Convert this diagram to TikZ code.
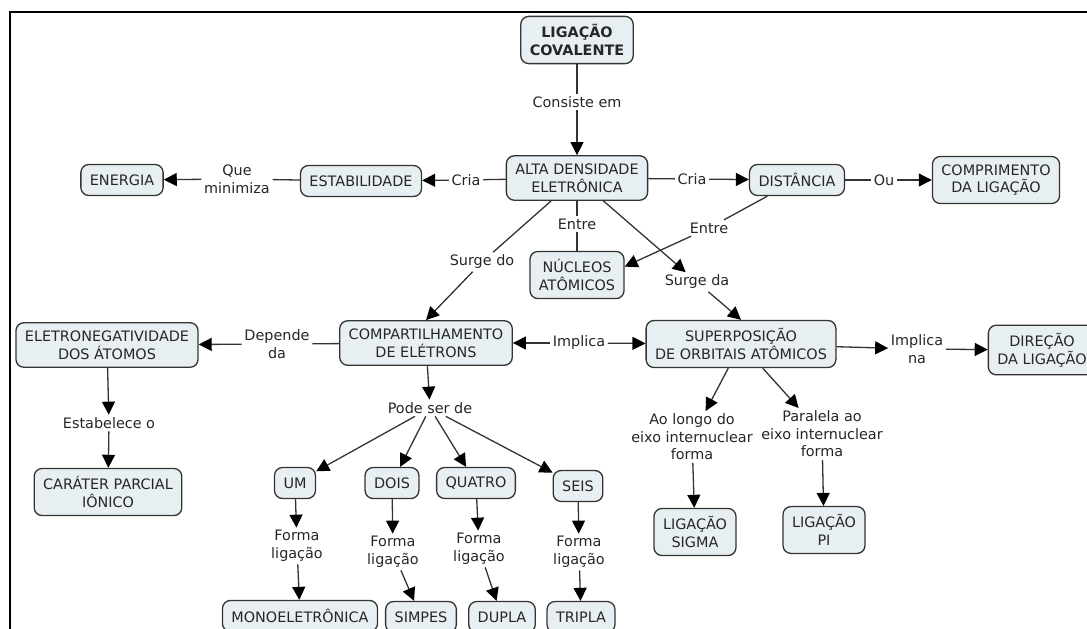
\documentclass[tikz,border=0pt]{standalone}
\usepackage{fontspec}
\setmainfont{DejaVu Sans}
\usepackage{xcolor}
\usetikzlibrary{arrows.meta}
\definecolor{boxfill}{HTML}{E8EFF2}
\definecolor{boxline}{HTML}{333333}
\definecolor{txt}{HTML}{262626}

\begin{document}
\begin{tikzpicture}[x=0.5pt,y=-0.5pt,
  font=\fontsize{7.2}{8.8}\selectfont,
  concept/.style={draw=boxline,fill=boxfill,rounded corners=4pt,line width=0.65pt,
    align=center,inner xsep=4.5pt,inner ysep=4pt,minimum height=15.5pt,text=txt},
  link/.style={align=center,inner sep=1.2pt,text=txt},
  every edge/.style={draw=boxline,line width=0.65pt},
  >={Triangle[length=6.5pt,width=6.5pt,color=black]}]
\useasboundingbox (0,0) rectangle (1087,628);
\draw[line width=1.1pt] (10,640) -- (10,12) -- (1100,12);

\node[concept,font=\fontsize{7.2}{8.8}\selectfont\bfseries] (cov) at (577,40) {LIGAÇÃO\\COVALENTE};
\node[concept] (alta) at (577,178) {ALTA DENSIDADE\\ELETRÔNICA};
\node[concept] (estab) at (361,181) {ESTABILIDADE};
\node[concept] (energia) at (122,180) {ENERGIA};
\node[concept] (dist) at (797,180) {DISTÂNCIA};
\node[concept] (compr) at (996,180) {COMPRIMENTO\\DA LIGAÇÃO};
\node[concept] (nucleos) at (577,275) {NÚCLEOS\\ATÔMICOS};
\node[concept] (compart) at (426,343) {COMPARTILHAMENTO\\DE ELÉTRONS};
\node[concept] (superp) at (741,344) {SUPERPOSIÇÃO\\DE ORBITAIS ATÔMICOS};
\node[concept] (direcao) at (1042,350) {DIREÇÃO\\DA LIGAÇÃO};
\node[concept] (eletro) at (107,345) {ELETRONEGATIVIDADE\\DOS ÁTOMOS};
\node[concept] (carater) at (108,492) {CARÁTER PARCIAL\\IÔNICO};
\node[concept] (um) at (295,483) {UM};
\node[concept] (dois) at (392,483) {DOIS};
\node[concept] (quatro) at (476,483) {QUATRO};
\node[concept] (seis) at (578,486) {SEIS};
\node[concept] (mono) at (300,616) {MONOELETRÔNICA};
\node[concept] (simpes) at (421,617) {SIMPES};
\node[concept] (dupla) at (502,617) {DUPLA};
\node[concept] (tripla) at (581,617) {TRIPLA};
\node[concept] (sigma) at (695,532) {LIGAÇÃO\\SIGMA};
\node[concept] (pi) at (824,530) {LIGAÇÃO\\PI};

\node[link] (consiste) at (577,102) {Consiste em};
\node[link] (cria1) at (466,180) {Cria};
\node[link] (minimiza) at (237,179) {Que\\minimiza};
\node[link] (cria2) at (692,179) {Cria};
\node[link] (ou) at (884,180) {Ou};
\node[link] (entre1) at (577,224) {Entre};
\node[link] (entre2) at (709,228) {Entre};
\node[link] (surgedo) at (482,262) {Surge do};
\node[link] (surgeda) at (697,282) {Surge da};
\node[link] (implica) at (579,343) {Implica};
\node[link] (implicana) at (917,349) {Implica\\na};
\node[link] (depende) at (277,344) {Depende\\da};
\node[link] (estabelece) at (109,423) {Estabelece o};
\node[link] (podeser) at (430,408) {Pode ser de};
\node[link] (forma1) at (297,546) {Forma\\ligação};
\node[link] (forma2) at (393,552) {Forma\\ligação};
\node[link] (forma3) at (479,549) {Forma\\ligação};
\node[link] (forma4) at (579,552) {Forma\\ligação};
\node[link] (aolongo) at (692,437) {Ao longo do\\eixo internuclear\\forma};
\node[link] (paralela) at (822,434) {Paralela ao\\eixo internuclear\\forma};

\draw (cov) edge (consiste);
\draw [->] (consiste) edge (alta);
\draw (alta) edge (cria1);
\draw [->] (cria1) edge (estab);
\draw (estab) edge (minimiza);
\draw [->] (minimiza) edge (energia);
\draw (alta) edge (cria2);
\draw [->] (cria2) edge (dist);
\draw (dist) edge (ou);
\draw [->] (ou) edge (compr);
\draw (alta) edge (entre1);
\draw (entre1) edge (nucleos);
\draw (dist) edge (entre2);
\draw [->] (entre2) edge (nucleos.10);
\draw (alta) edge (surgedo);
\draw [->] (surgedo) edge (compart.north);
\draw [->] (alta) edge (surgeda);
\draw [->] (surgeda) edge (superp.north);
\draw [->] (implica) edge (compart);
\draw [->] (implica) edge (superp);
\draw [->] (superp) edge (implicana);
\draw [->] (implicana) edge (direcao);
\draw (compart) edge (depende);
\draw [->] (depende) edge (eletro);
\draw [->] (eletro) edge (estabelece);
\draw [->] (estabelece) edge (carater);
\draw [->] (compart) edge (podeser);
\draw [->] (podeser) edge (um);
\draw [->] (podeser) edge (dois);
\draw [->] (podeser) edge (quatro);
\draw [->] (podeser) edge (seis);
\draw [->] (um) edge (forma1);
\draw [->] (dois) edge (forma2);
\draw [->] (quatro) edge (forma3);
\draw [->] (seis) edge (forma4);
\draw [->] (forma1) edge (mono);
\draw [->] (forma2) edge (simpes);
\draw [->] (forma3) edge (dupla);
\draw [->] (forma4) edge (tripla);
\draw [->] (superp) edge (aolongo);
\draw [->] (aolongo) edge (sigma);
\draw [->] (superp) edge (paralela);
\draw [->] (paralela) edge (pi);
\end{tikzpicture}
\end{document}
